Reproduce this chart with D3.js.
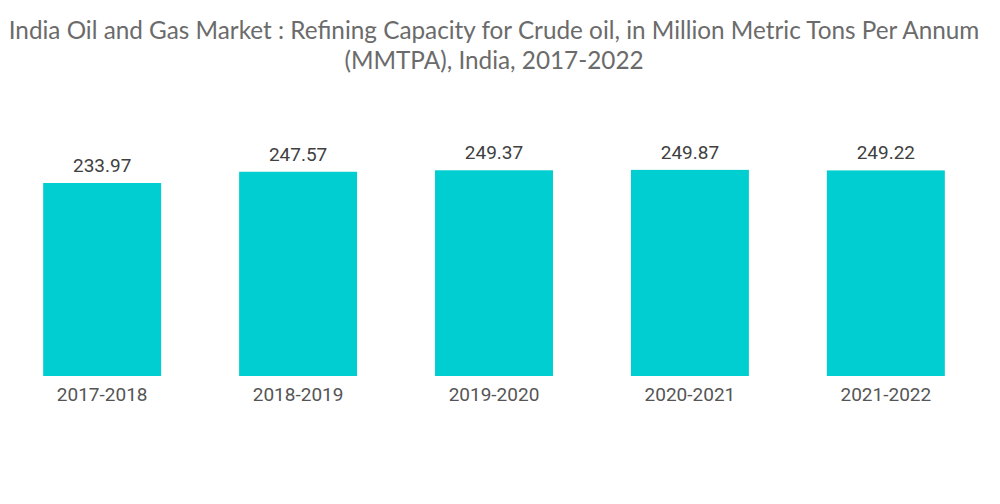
<!DOCTYPE html>
<html><head><meta charset="utf-8">
<script src="https://cdn.jsdelivr.net/npm/d3@7"></script>
<style>body{margin:0;background:#fff}</style>
</head><body>
<svg id="c" width="1000" height="504"></svg>
<script>
const categories = ["2017-2018","2018-2019","2019-2020","2020-2021","2021-2022"];
const values = [233.97, 247.57, 249.37, 249.87, 249.22];
const titleLines = ["India Oil and Gas Market : Refining Capacity for Crude oil, in Million Metric Tons Per Annum","(MMTPA), India, 2017-2022"];

const svg = d3.select("#c");
const x = d3.scaleBand().domain(categories).range([4, 984]).paddingInner(0.398).paddingOuter(0.2);
const y = d3.scaleLinear().domain([0, 455.8]).range([376, 0]);

svg.selectAll("text.title").data(titleLines).enter().append("text")
  .attr("class","title").attr("x",494).attr("y",(d,i)=>38.5+i*30)
  .attr("text-anchor","middle").attr("font-family","Lato, sans-serif")
  .attr("font-size",24.3).attr("fill","#6b6b6b").text(d=>d);

svg.selectAll("rect").data(values).enter().append("rect")
  .attr("x",(d,i)=>x(categories[i])).attr("width",x.bandwidth())
  .attr("y",d=>y(d)).attr("height",d=>y(0)-y(d)).attr("fill","#00CED1");

svg.selectAll("text.val").data(values).enter().append("text")
  .attr("class","val").attr("x",(d,i)=>x(categories[i])+x.bandwidth()/2)
  .attr("y",d=>y(d)-11).attr("text-anchor","middle")
  .attr("font-family","Roboto, sans-serif").attr("font-size",19).attr("fill","#404040")
  .text(d=>d.toFixed(2));

const ax = svg.append("g").attr("transform","translate(0,376)").call(d3.axisBottom(x).tickSize(0).tickPadding(12));
ax.select(".domain").remove();
ax.selectAll("text").attr("font-family","Roboto, sans-serif").attr("font-size",19).attr("fill","#555").attr("dy","0.71em");
</script>
</body></html>
